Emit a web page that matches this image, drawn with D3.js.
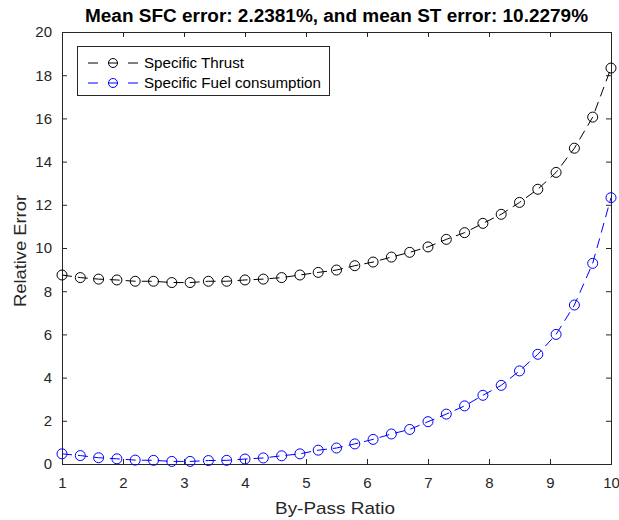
<!DOCTYPE html>
<html>
<head>
<meta charset="utf-8">
<script src="https://cdn.jsdelivr.net/npm/d3@7"></script>
<style>
  html, body { margin: 0; padding: 0; background: #fff; }
  svg { display: block; }
  text { font-family: "Liberation Sans", Arial, Helvetica, sans-serif; }
</style>
</head>
<body>
<svg id="chart" width="619" height="520"></svg>
<script>
// ---- data ----
const byPassRatio = [1, 1.3, 1.6, 1.9, 2.2, 2.5, 2.8, 3.1, 3.4, 3.7, 4, 4.3, 4.6, 4.9, 5.2, 5.5,
  5.8, 6.1, 6.4, 6.7, 7, 7.3, 7.6, 7.9, 8.2, 8.5, 8.8, 9.1, 9.4, 9.7, 10];
const specificThrust = [8.75, 8.63, 8.56, 8.52, 8.46, 8.46, 8.40, 8.40, 8.46, 8.46, 8.52, 8.56,
  8.63, 8.75, 8.87, 8.98, 9.18, 9.35, 9.58, 9.80, 10.05, 10.40, 10.71, 11.14, 11.56, 12.11,
  12.72, 13.50, 14.62, 16.06, 18.33];
const specificFuel = [0.47, 0.39, 0.29, 0.24, 0.18, 0.17, 0.12, 0.12, 0.16, 0.17, 0.23, 0.28,
  0.38, 0.47, 0.64, 0.74, 0.93, 1.14, 1.39, 1.60, 1.96, 2.31, 2.69, 3.18, 3.64, 4.31, 5.08,
  6.00, 7.36, 9.29, 12.33];
const seriesNames = ["Specific Thrust", "Specific Fuel consumption"];
const seriesColors = ["#000000", "#0000ff"];
const xTicks = [1, 2, 3, 4, 5, 6, 7, 8, 9, 10];
const yTicks = [0, 2, 4, 6, 8, 10, 12, 14, 16, 18, 20];
const titleText = "Mean SFC error: 2.2381%, and mean ST error: 10.2279%";
const xLabelText = "By-Pass Ratio";
const yLabelText = "Relative Error";

// ---- layout ----
const mLeft = 62, mRight = 611, mTop = 32, mBottom = 464;
const axisColor = "#262626";
const svg = d3.select("#chart");

const x = d3.scaleLinear().domain([1, 10]).range([mLeft, mRight]);
const y = d3.scaleLinear().domain([0, 20]).range([mBottom, mTop]);

// axes (ticks inward, box)
const tickLen = 5;
const gx = svg.append("g").attr("transform", `translate(0,${mBottom})`)
  .call(d3.axisBottom(x).tickValues(xTicks).tickSize(-tickLen).tickPadding(13).tickFormat(d3.format("d")));
const gxTop = svg.append("g").attr("transform", `translate(0,${mTop})`)
  .call(d3.axisTop(x).tickValues(xTicks).tickSize(-tickLen).tickFormat(""));
const gy = svg.append("g").attr("transform", `translate(${mLeft},0)`)
  .call(d3.axisLeft(y).tickValues(yTicks).tickSize(-tickLen).tickPadding(10).tickFormat(d3.format("d")));
const gyRight = svg.append("g").attr("transform", `translate(${mRight},0)`)
  .call(d3.axisRight(y).tickValues(yTicks).tickSize(-tickLen).tickFormat(""));

[gx, gxTop, gy, gyRight].forEach(g => {
  g.select(".domain").attr("stroke", axisColor).attr("stroke-width", 1);
  g.selectAll(".tick line").attr("stroke", axisColor).attr("stroke-width", 1);
  g.selectAll(".tick text").attr("fill", axisColor).style("font-size", "15px")
    .style("font-family", "'Liberation Sans', Arial, sans-serif");
});

// series
const series = [specificThrust, specificFuel];
const line = d3.line().x((d, i) => x(byPassRatio[i])).y(d => y(d));
series.forEach((vals, k) => {
  svg.append("path").datum(vals)
    .attr("d", line)
    .attr("fill", "none")
    .attr("stroke", seriesColors[k])
    .attr("stroke-width", 1)
    .attr("stroke-dasharray", "10,6");
  svg.append("g").selectAll("circle").data(vals).join("circle")
    .attr("cx", (d, i) => x(byPassRatio[i]))
    .attr("cy", d => y(d))
    .attr("r", 5)
    .attr("fill", "none")
    .attr("stroke", seriesColors[k])
    .attr("stroke-width", 1);
});

// title
svg.append("text")
  .attr("x", (mLeft + mRight) / 2).attr("y", 22)
  .attr("text-anchor", "middle")
  .attr("textLength", 503).attr("lengthAdjust", "spacingAndGlyphs")
  .style("font-size", "18px").style("font-weight", "bold")
  .attr("fill", "#000")
  .text(titleText);

// axis labels
svg.append("text")
  .attr("x", 335).attr("y", 514)
  .attr("text-anchor", "middle")
  .attr("textLength", 120).attr("lengthAdjust", "spacingAndGlyphs")
  .style("font-size", "17px")
  .attr("fill", axisColor)
  .text(xLabelText);
svg.append("text")
  .attr("transform", `translate(26,251) rotate(-90)`)
  .attr("text-anchor", "middle")
  .attr("textLength", 112).attr("lengthAdjust", "spacingAndGlyphs")
  .style("font-size", "17px")
  .attr("fill", axisColor)
  .text(yLabelText);

// legend
const lg = svg.append("g");
lg.append("rect").attr("x", 77.5).attr("y", 46.5).attr("width", 252).attr("height", 49)
  .attr("fill", "#fff").attr("stroke", axisColor).attr("stroke-width", 1);
seriesNames.forEach((name, k) => {
  const ly = 63 + k * 20;
  lg.append("line").attr("x1", 88).attr("x2", 138).attr("y1", ly).attr("y2", ly)
    .attr("stroke", seriesColors[k]).attr("stroke-width", 1).attr("stroke-dasharray", "10,10");
  lg.append("circle").attr("cx", 113).attr("cy", ly).attr("r", 4.5)
    .attr("fill", "none").attr("stroke", seriesColors[k]).attr("stroke-width", 1);
  lg.append("text").attr("x", 144).attr("y", ly + 5)
    .attr("textLength", k === 0 ? 100 : 177).attr("lengthAdjust", "spacingAndGlyphs")
    .style("font-size", "14px").attr("fill", "#000").text(name);
});
</script>
</body>
</html>
